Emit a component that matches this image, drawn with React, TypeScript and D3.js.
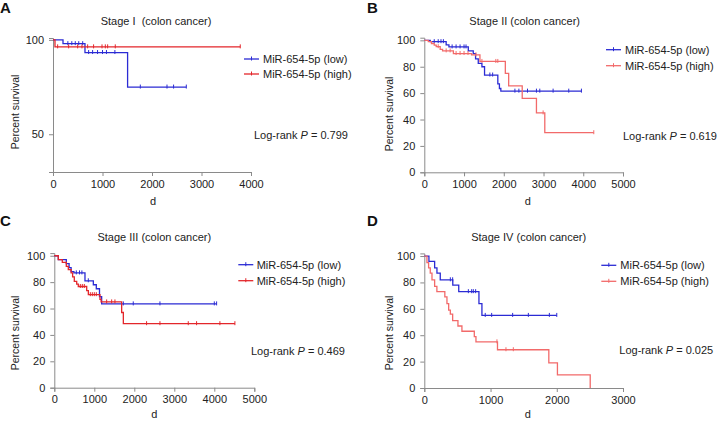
import React, { useRef, useEffect } from 'react'
import * as d3 from 'd3'

// Stage I
const aLowT = [0, 202, 646, 1507, 2693]
const aLowS = [100, 98, 93.3, 75, 75]
const aLowC = [300, 380, 450, 520, 600, 720, 800, 900, 1000, 1080, 1250, 1764, 2303, 2436, 2693]
const aHighT = [0, 40, 3783]
const aHighS = [100, 96.3, 96.3]
const aHighC = [94, 316, 498, 585, 700, 820, 990, 1057, 1104, 1258, 3783]

// Stage II
const bLowT = [0, 150, 550, 620, 1107, 1232, 1290, 1358, 1450, 1516, 1850, 1890, 1926, 3954]
const bLowS = [100, 99, 96.5, 95, 92, 90, 86, 82.5, 80, 73.7, 67, 63.5, 61.5, 61.5]
const bLowC = [250, 350, 420, 480, 700, 800, 900, 1000, 1050, 1650, 1720, 2280, 2380, 2597, 2822, 2906, 3241, 3635, 3954]
const bHighT = [0, 100, 180, 250, 300, 400, 460, 732, 1190, 1400, 2039, 2123, 2464, 2822, 3032, 4265]
const bHighS = [100, 99, 97.6, 96.4, 95.2, 93.2, 92, 90, 89, 84, 75, 65.5, 56, 45, 30, 30]
const bHighC = [350, 550, 650, 800, 900, 1000, 1100, 1300, 1450, 1800, 1850, 2990, 4265]

// Stage III
const cLowT = [0, 100, 300, 370, 420, 490, 767, 976, 1050, 1130, 1184, 4058]
const cLowS = [100, 97, 94, 91, 88, 87, 81, 78, 75, 69, 63.5, 63.5]
const cLowC = [550, 630, 690, 850, 1725, 1974, 2641, 4000, 4058]
const cHighT = [0, 100, 200, 300, 350, 420, 458, 500, 560, 600, 810, 851, 1142, 1170, 1684, 1726, 4515]
const cHighS = [100, 97, 95, 92, 89.5, 87, 84, 80.5, 78.5, 76.7, 73.5, 70.5, 67, 65, 57, 48.5, 48.5]
const cHighC = [650, 700, 750, 900, 950, 1000, 1050, 1309, 1434, 1516, 2307, 2641, 3349, 3557, 4140, 4515]

// Stage IV
const dLowT = [0, 70, 156, 191, 241, 430, 520, 825, 870, 2000]
const dLowS = [100, 96, 91, 87, 82, 78, 73, 64, 55, 55]
const dLowC = [393, 428, 665, 715, 740, 775, 920, 1017, 1334, 1571, 1888, 2000]
const dHighT = [0, 40, 65, 90, 116, 156, 190, 310, 342, 368, 393, 428, 508, 568, 755, 780, 1105, 1880, 2010, 2505]
const dHighS = [100, 95, 91, 87, 82, 77, 73, 69, 64, 59, 56, 51, 47, 43, 39, 35, 29, 19, 10, 0]
const dHighC = [1097, 1233, 1344]

const titles = ['Stage I  (colon cancer)', 'Stage II (colon cancer)', 'Stage III (colon cancer)', 'Stage IV (colon cancer)']
const letters = ['A', 'B', 'C', 'D']
const pValues = ['0.799', '0.619', '0.469', '0.025']
const xMaxes = [4000, 5000, 5000, 3000]
const seriesNames = ['MiR-654-5p (low)', 'MiR-654-5p (high)']

const BLUE = '#2b2bd4'
const RED = '#e3262b'
const PINK = '#f26a6a'
const AXIS = '#8a8a8a'
const FONT = '"Liberation Sans", Arial, sans-serif'

const panels = [
  {
    x0: 53, x1: 251, yTop: 38, yBot: 172, yDom: [30, 101], yTicks: [50, 100],
    low: { t: aLowT, s: aLowS, c: aLowC }, high: { t: aHighT, s: aHighS, c: aHighC }, hiColor: RED,
    title: [156, 21], letter: [0, 13], legend: [244, 59, 74, 263], lr: [254, 135], ylab: [15, 112], xlab: [153, 201]
  },
  {
    x0: 424.3, x1: 623, yTop: 37.7, yBot: 172.3, yDom: [0, 102], yTicks: [0, 20, 40, 60, 80, 100],
    low: { t: bLowT, s: bLowS, c: bLowC }, high: { t: bHighT, s: bHighS, c: bHighC }, hiColor: PINK,
    title: [524.7, 21], letter: [367, 13], legend: [606, 49.7, 65.7, 625], lr: [623, 136], ylab: [389, 114], xlab: [527.7, 201]
  },
  {
    x0: 54.3, x1: 254.3, yTop: 253.1, yBot: 387.7, yDom: [0, 102], yTicks: [0, 20, 40, 60, 80, 100],
    low: { t: cLowT, s: cLowS, c: cLowC }, high: { t: cHighT, s: cHighS, c: cHighC }, hiColor: RED,
    title: [154.3, 237.3], letter: [0, 226], legend: [238.3, 264.7, 280.7, 256.7], lr: [251, 351.3], ylab: [15, 333], xlab: [154.3, 414]
  },
  {
    x0: 424.3, x1: 623, yTop: 253.4, yBot: 388, yDom: [0, 102], yTicks: [0, 20, 40, 60, 80, 100],
    low: { t: dLowT, s: dLowS, c: dLowC }, high: { t: dHighT, s: dHighS, c: dHighC }, hiColor: PINK,
    title: [528.7, 237.3], letter: [367, 226], legend: [601.3, 265.3, 281.3, 620.3], lr: [619.3, 350], ylab: [389, 333], xlab: [527.7, 414]
  }
]

function survAt(t: number[], s: number[], time: number) {
  let v = s[0]
  for (let i = 0; i < t.length; i++) if (t[i] <= time) v = s[i]
  return v
}

function Panel({ p, i }: any) {
  const ref = useRef<SVGGElement>(null)
  useEffect(() => {
    const g = d3.select(ref.current)
    g.selectAll('*').remove()
    const x = d3.scaleLinear().domain([0, xMaxes[i]]).range([p.x0, p.x1])
    const y = d3.scaleLinear().domain(p.yDom).range([p.yBot, p.yTop])

    const xAxis = d3.axisBottom(x).tickValues(d3.range(0, xMaxes[i] + 1, 1000)).tickSize(4).tickPadding(4).tickFormat(d3.format('d'))
    const yAxis = d3.axisLeft(y).tickValues(p.yTicks).tickSize(4).tickPadding(5).tickFormat(d3.format('d'))
    const styleAxis = (ax: any) => {
      ax.selectAll('path,line').attr('stroke', AXIS).attr('stroke-width', 1)
      ax.selectAll('text').attr('fill', '#222').style('font-family', FONT).style('font-size', '11px')
    }
    g.append('g').attr('transform', `translate(0,${p.yBot})`).call(xAxis).call(styleAxis)
    g.append('g').attr('transform', `translate(${p.x0},0)`).call(yAxis).call(styleAxis)

    const line = d3.line<[number, number]>()
      .curve(d3.curveStepAfter)
      .x(d => x(d[0]))
      .y(d => y(d[1]))

    const series = [
      { d: p.low, color: BLUE },
      { d: p.high, color: p.hiColor }
    ]
    series.forEach(({ d, color }) => {
      const pts = d.t.map((t: number, k: number) => [t, d.s[k]] as [number, number])
      g.append('path')
        .attr('d', line(pts))
        .attr('fill', 'none')
        .attr('stroke', color)
        .attr('stroke-width', 1.3)
      g.selectAll(null)
        .data(d.c)
        .enter()
        .append('line')
        .attr('x1', (c: number) => x(c))
        .attr('x2', (c: number) => x(c))
        .attr('y1', (c: number) => y(survAt(d.t, d.s, c)) - 2.5)
        .attr('y2', (c: number) => y(survAt(d.t, d.s, c)) + 1.5)
        .attr('stroke', color)
        .attr('stroke-width', 1)
    })

    // legend
    const [lx, ly1, ly2, tx] = p.legend
    ;[ly1, ly2].forEach((ly: number, k: number) => {
      const color = k === 0 ? BLUE : p.hiColor
      g.append('line').attr('x1', lx).attr('x2', lx + 15).attr('y1', ly).attr('y2', ly)
        .attr('stroke', color).attr('stroke-width', 1.3)
      g.append('line').attr('x1', lx + 7.5).attr('x2', lx + 7.5).attr('y1', ly - 2.5).attr('y2', ly + 1.5)
        .attr('stroke', color).attr('stroke-width', 1)
      g.append('text').attr('x', tx).attr('y', ly).attr('dy', '0.35em')
        .style('font-family', FONT).style('font-size', '11px').attr('fill', '#222')
        .text(seriesNames[k])
    })
  }, [p, i])

  return (
    <g fontFamily={FONT} fill="#222">
      <g ref={ref} />
      <text x={p.letter[0]} y={p.letter[1]} fontSize="15px" fontWeight="bold" fill="#111">{letters[i]}</text>
      <text x={p.title[0]} y={p.title[1]} dy="0.35em" fontSize="11px" textAnchor="middle" style={{ whiteSpace: 'pre' }}>{titles[i]}</text>
      <text x={p.lr[0]} y={p.lr[1]} dy="0.35em" fontSize="11px">
        Log-rank <tspan fontStyle="italic">P</tspan> = {pValues[i]}
      </text>
      <text transform={`translate(${p.ylab[0]},${p.ylab[1]}) rotate(-90)`} dy="0.35em" fontSize="10.5px" textAnchor="middle">Percent survival</text>
      <text x={p.xlab[0]} y={p.xlab[1]} dy="0.35em" fontSize="11px" textAnchor="middle">d</text>
    </g>
  )
}

export default function App() {
  return (
    <svg width={723} height={426} style={{ position: 'absolute', left: 0, top: 0, background: '#fff' }}>
      {panels.map((p, i) => <Panel key={i} p={p} i={i} />)}
    </svg>
  )
}
